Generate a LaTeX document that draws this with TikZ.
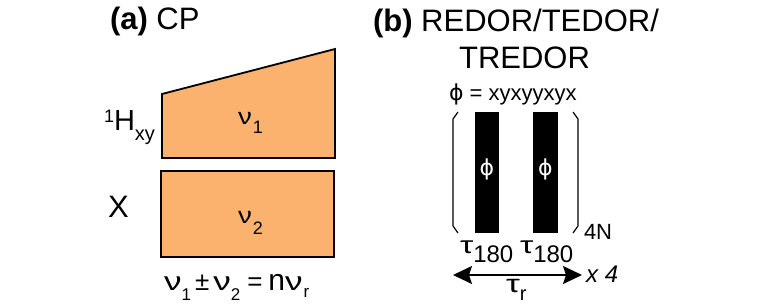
\documentclass[tikz,border=0pt]{standalone}
\usepackage{fontspec}
\usepackage{graphicx}
\setmainfont{Liberation Sans}
\newfontfamily\dvs{DejaVu Sans}
\usetikzlibrary{arrows.meta}
\definecolor{cporange}{RGB}{250,178,110}
\newcommand{\fs}[1]{\fontsize{#1}{#1}\selectfont}
\newcommand{\lsub}[3]{\raisebox{-#1pt}{\fs{#2}#3}}
\newcommand{\gnu}{\scalebox{1.35}[1]{ν}}
\newcommand{\gtau}{\scalebox{1.4}[1]{τ}}
\begin{document}
\begin{tikzpicture}[x=1pt,y=-1pt,
  txt/.style={inner sep=0pt,outer sep=0pt,anchor=base west},
  ctxt/.style={inner sep=0pt,outer sep=0pt,anchor=base},
  block/.style={draw=black,line width=1.8pt,fill=cporange,line join=miter},
  pulse/.style={fill=black,draw=none},
  brack/.style={draw=black,line width=1.2pt},
  dblarrow/.style={line width=1.8pt,{Stealth[length=19pt,width=18pt,inset=3pt]}-{Stealth[length=19pt,width=18pt,inset=3pt]}}]
\useasboundingbox (0,0) rectangle (780,308);
% ---------- panel (a)
\node[txt,font=\fs{31}] (ta) at (110,29) {\textbf{(a)} CP};
\draw[block] (162,94) -- (335,49) -- (335,158) -- (162,158) -- cycle;
\draw[block] (161,171) rectangle (334,257);
\node[txt,font=\fs{23}] (nu1) at (238,124) {\scalebox{1.2}[1]{ν}\hspace{1pt}\lsub{9}{18}{1}};
\node[txt,font=\fs{23}] (nu2) at (238,223) {\scalebox{1.2}[1]{ν}\hspace{1pt}\lsub{11}{18}{2}};
\node[txt,font=\fs{29}] (H) at (104,130) {\raisebox{8pt}{\fs{18}1}H\lsub{10}{20}{xy}};
\node[txt,font=\fs{31}] (X) at (108,217) {X};
\node[txt,font=\fs{26}] (eq) at (164,290) {\gnu\lsub{10}{17}{1}\hspace{4pt}±\hspace{4pt}\gnu\lsub{10}{17}{2}\hspace{7pt}=\hspace{6pt}{\fs{30}n}\gnu\hspace{1pt}\lsub{7}{17}{r}};
% ---------- panel (b)
\node[txt,font=\fs{31}] (tb) at (373,31) {\textbf{(b)} REDOR/TEDOR/};
\node[ctxt,font=\fs{31}] (tb2) at (524.5,68) {TREDOR};
\node[txt,font=\fs{22}] (phi) at (449,100) {{\dvs ϕ} = xyxyyxyx};
\draw[brack] (458,112) -- (453,119) -- (453,226) -- (458,233);
\draw[brack] (573,112) -- (578,119) -- (578,226) -- (573,233);
\fill[pulse] (475,112) rectangle (499,233);
\fill[pulse] (533,112) rectangle (558,233);
\node[ctxt,font=\fs{22},text=white] (p1) at (487,175) {\dvs ϕ};
\node[ctxt,font=\fs{22},text=white] (p2) at (545.5,175) {\dvs ϕ};
\node[txt,font=\fs{22}] (n4) at (584,239) {4N};
\node[txt,font=\fs{24}] (t1) at (460,253) {\gtau\lsub{9}{24}{180}};
\node[txt,font=\fs{24}] (t2) at (520,253) {\gtau\lsub{9}{24}{180}};
\coordinate (aL) at (453,275);
\coordinate (aR) at (582,275);
\draw[dblarrow] (aL) -- (aR);
\node[txt,font=\fs{24}\itshape] (x4) at (586,282) {x\hspace{7pt}4};
\node[txt,font=\fs{25}] (tr) at (506,292) {\gtau\lsub{8}{20}{r}};
\end{tikzpicture}
\end{document}
